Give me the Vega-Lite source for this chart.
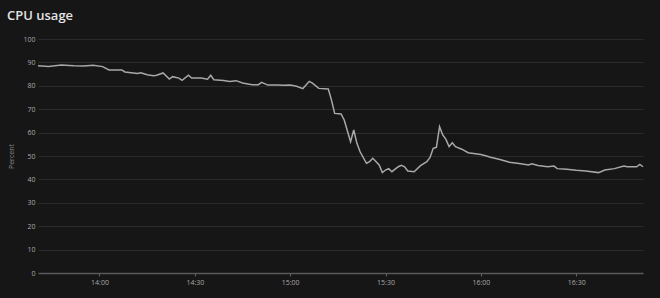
{
  "$schema": "https://vega.github.io/schema/vega-lite/v6.json",
  "width": 605,
  "height": 234,
  "autosize": {"type": "none"},
  "padding": {"left": 38, "top": 39, "right": 17, "bottom": 25},
  "background": "#161616",
  "title": {
    "text": "CPU usage",
    "anchor": "start",
    "frame": "group",
    "dx": -31,
    "offset": 12,
    "fontSize": 13,
    "fontWeight": 600,
    "font": "Open Sans",
    "color": "#e4e4e4"
  },
  "config": {
    "view": {"stroke": null},
    "font": "Open Sans"
  },
  "data": {
    "values": [
      {"time": "2024-01-01T13:40:40", "value": 88.6},
      {"time": "2024-01-01T13:44:00", "value": 88.2},
      {"time": "2024-01-01T13:48:00", "value": 88.9},
      {"time": "2024-01-01T13:52:00", "value": 88.6},
      {"time": "2024-01-01T13:55:00", "value": 88.5},
      {"time": "2024-01-01T13:58:00", "value": 88.8},
      {"time": "2024-01-01T14:01:00", "value": 88.2},
      {"time": "2024-01-01T14:03:00", "value": 86.8},
      {"time": "2024-01-01T14:07:00", "value": 86.8},
      {"time": "2024-01-01T14:08:00", "value": 85.9},
      {"time": "2024-01-01T14:12:00", "value": 85.3},
      {"time": "2024-01-01T14:13:00", "value": 85.6},
      {"time": "2024-01-01T14:15:00", "value": 84.7},
      {"time": "2024-01-01T14:17:00", "value": 84.3},
      {"time": "2024-01-01T14:18:00", "value": 84.5},
      {"time": "2024-01-01T14:20:00", "value": 85.5},
      {"time": "2024-01-01T14:22:00", "value": 82.9},
      {"time": "2024-01-01T14:23:00", "value": 83.9},
      {"time": "2024-01-01T14:25:00", "value": 83.3},
      {"time": "2024-01-01T14:26:00", "value": 82.3},
      {"time": "2024-01-01T14:28:00", "value": 84.5},
      {"time": "2024-01-01T14:29:00", "value": 83.3},
      {"time": "2024-01-01T14:32:00", "value": 83.3},
      {"time": "2024-01-01T14:34:00", "value": 82.8},
      {"time": "2024-01-01T14:35:00", "value": 84.5},
      {"time": "2024-01-01T14:36:00", "value": 82.6},
      {"time": "2024-01-01T14:39:00", "value": 82.3},
      {"time": "2024-01-01T14:41:00", "value": 81.8},
      {"time": "2024-01-01T14:43:00", "value": 82.2},
      {"time": "2024-01-01T14:45:00", "value": 81.2},
      {"time": "2024-01-01T14:48:00", "value": 80.5},
      {"time": "2024-01-01T14:50:00", "value": 80.5},
      {"time": "2024-01-01T14:51:00", "value": 81.5},
      {"time": "2024-01-01T14:53:00", "value": 80.3},
      {"time": "2024-01-01T14:56:00", "value": 80.3},
      {"time": "2024-01-01T14:58:00", "value": 80.2},
      {"time": "2024-01-01T15:00:00", "value": 80.3},
      {"time": "2024-01-01T15:02:00", "value": 79.8},
      {"time": "2024-01-01T15:04:00", "value": 78.8},
      {"time": "2024-01-01T15:06:00", "value": 81.9},
      {"time": "2024-01-01T15:07:00", "value": 81.1},
      {"time": "2024-01-01T15:09:00", "value": 78.9},
      {"time": "2024-01-01T15:12:00", "value": 78.6},
      {"time": "2024-01-01T15:13:00", "value": 73.9},
      {"time": "2024-01-01T15:14:00", "value": 68.2},
      {"time": "2024-01-01T15:16:00", "value": 68.0},
      {"time": "2024-01-01T15:17:00", "value": 65.4},
      {"time": "2024-01-01T15:19:00", "value": 56.1},
      {"time": "2024-01-01T15:20:00", "value": 61.1},
      {"time": "2024-01-01T15:21:00", "value": 55.4},
      {"time": "2024-01-01T15:22:00", "value": 51.8},
      {"time": "2024-01-01T15:24:00", "value": 46.9},
      {"time": "2024-01-01T15:25:00", "value": 47.6},
      {"time": "2024-01-01T15:26:00", "value": 49.0},
      {"time": "2024-01-01T15:28:00", "value": 46.2},
      {"time": "2024-01-01T15:29:00", "value": 42.9},
      {"time": "2024-01-01T15:30:00", "value": 44.0},
      {"time": "2024-01-01T15:31:00", "value": 44.6},
      {"time": "2024-01-01T15:32:00", "value": 43.3},
      {"time": "2024-01-01T15:34:00", "value": 45.4},
      {"time": "2024-01-01T15:35:00", "value": 46.0},
      {"time": "2024-01-01T15:36:00", "value": 45.4},
      {"time": "2024-01-01T15:37:00", "value": 43.6},
      {"time": "2024-01-01T15:39:00", "value": 43.3},
      {"time": "2024-01-01T15:41:00", "value": 45.9},
      {"time": "2024-01-01T15:43:00", "value": 47.6},
      {"time": "2024-01-01T15:44:00", "value": 49.4},
      {"time": "2024-01-01T15:45:00", "value": 53.3},
      {"time": "2024-01-01T15:46:00", "value": 53.7},
      {"time": "2024-01-01T15:47:00", "value": 62.5},
      {"time": "2024-01-01T15:48:00", "value": 59.0},
      {"time": "2024-01-01T15:49:00", "value": 57.1},
      {"time": "2024-01-01T15:50:00", "value": 54.0},
      {"time": "2024-01-01T15:51:00", "value": 55.7},
      {"time": "2024-01-01T15:52:00", "value": 54.0},
      {"time": "2024-01-01T15:54:00", "value": 52.9},
      {"time": "2024-01-01T15:56:00", "value": 51.4},
      {"time": "2024-01-01T16:00:00", "value": 50.6},
      {"time": "2024-01-01T16:02:00", "value": 49.9},
      {"time": "2024-01-01T16:03:00", "value": 49.5},
      {"time": "2024-01-01T16:06:00", "value": 48.5},
      {"time": "2024-01-01T16:09:00", "value": 47.3},
      {"time": "2024-01-01T16:12:00", "value": 46.8},
      {"time": "2024-01-01T16:15:00", "value": 46.2},
      {"time": "2024-01-01T16:16:00", "value": 46.7},
      {"time": "2024-01-01T16:18:00", "value": 45.9},
      {"time": "2024-01-01T16:21:00", "value": 45.4},
      {"time": "2024-01-01T16:23:00", "value": 45.7},
      {"time": "2024-01-01T16:24:00", "value": 44.6},
      {"time": "2024-01-01T16:27:00", "value": 44.3},
      {"time": "2024-01-01T16:30:00", "value": 43.9},
      {"time": "2024-01-01T16:33:00", "value": 43.6},
      {"time": "2024-01-01T16:37:00", "value": 42.9},
      {"time": "2024-01-01T16:39:00", "value": 44.0},
      {"time": "2024-01-01T16:42:00", "value": 44.6},
      {"time": "2024-01-01T16:45:00", "value": 45.7},
      {"time": "2024-01-01T16:46:00", "value": 45.4},
      {"time": "2024-01-01T16:49:00", "value": 45.4},
      {"time": "2024-01-01T16:50:00", "value": 46.4},
      {"time": "2024-01-01T16:51:00", "value": 45.4}
    ]
  },
  "mark": {"type": "line", "color": "#a8a8a8", "strokeWidth": 1.5},
  "encoding": {
    "x": {
      "field": "time",
      "type": "temporal",
      "axis": {
        "title": null,
        "format": "%H:%M",
        "values": [
          {"year": 2024, "month": 1, "date": 1, "hours": 14, "minutes": 0},
          {"year": 2024, "month": 1, "date": 1, "hours": 14, "minutes": 30},
          {"year": 2024, "month": 1, "date": 1, "hours": 15, "minutes": 0},
          {"year": 2024, "month": 1, "date": 1, "hours": 15, "minutes": 30},
          {"year": 2024, "month": 1, "date": 1, "hours": 16, "minutes": 0},
          {"year": 2024, "month": 1, "date": 1, "hours": 16, "minutes": 30}
        ],
        "grid": false,
        "domain": true,
        "domainColor": "#5a5a5a",
        "domainWidth": 1.5,
        "ticks": true,
        "tickColor": "#666666",
        "tickSize": 3,
        "labelFontSize": 7,
        "labelColor": "#a8a8a8",
        "labelPadding": 2
      }
    },
    "y": {
      "field": "value",
      "type": "quantitative",
      "scale": {"domain": [0, 100]},
      "axis": {
        "title": "Percent",
        "titleFontSize": 7,
        "titleFontWeight": "normal",
        "titleColor": "#8a8a8a",
        "titlePadding": 8,
        "values": [0, 10, 20, 30, 40, 50, 60, 70, 80, 90, 100],
        "grid": true,
        "gridColor": "#2a2a2a",
        "gridWidth": 1,
        "domain": false,
        "ticks": false,
        "labelFontSize": 7,
        "labelColor": "#a8a8a8",
        "labelPadding": 3
      }
    }
  }
}
